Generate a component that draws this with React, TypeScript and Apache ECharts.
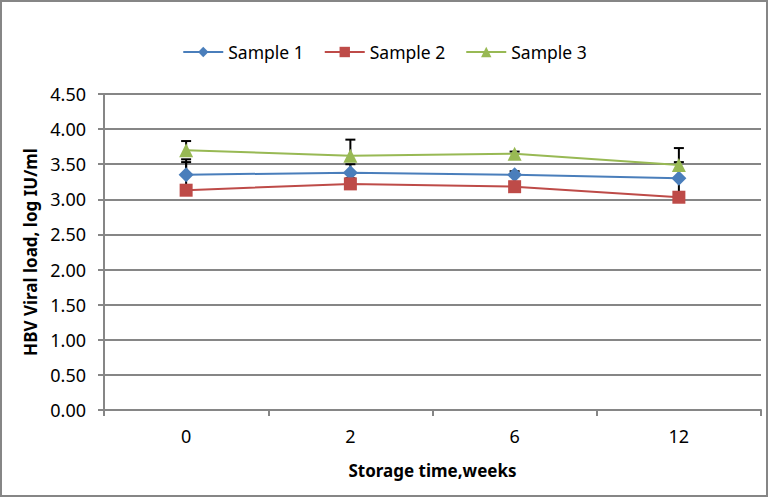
import React, { useEffect, useRef } from "react";
import * as echarts from "echarts";

const categories = ["0", "2", "6", "12"];
const sample1 = [3.35, 3.38, 3.35, 3.3];
const sample2 = [3.13, 3.22, 3.18, 3.03];
const sample3 = [3.7, 3.62, 3.65, 3.49];
const sample1Upper = [3.57, 3.5, 3.4, 3.53];
const sample2Upper = [3.53, 3.3, 3.22, 3.3];
const sample3Upper = [3.83, 3.85, 3.68, 3.73];
const yTicks = { min: 0, max: 4.5, interval: 0.5 };

const FONT = "'Noto Sans', sans-serif";
const GRAY = "#868686";

function errorSeries(name: string, values: number[], uppers: number[]) {
  return {
    type: "custom",
    name: name + " err",
    z: 1,
    silent: true,
    data: values.map((v, i) => [i, v, uppers[i]]),
    encode: { x: 0, y: [1, 2] },
    renderItem: (params: any, api: any) => {
      const i = api.value(0);
      const p0 = api.coord([i, api.value(1)]);
      const p1 = api.coord([i, api.value(2)]);
      const style = { stroke: "#000", lineWidth: 2 };
      return {
        type: "group",
        children: [
          { type: "line", shape: { x1: p0[0], y1: p0[1], x2: p1[0], y2: p1[1] }, style },
          { type: "line", shape: { x1: p1[0] - 5, y1: p1[1], x2: p1[0] + 5, y2: p1[1] }, style },
        ],
      };
    },
  };
}

export default function App() {
  const ref = useRef<HTMLDivElement>(null);
  useEffect(() => {
    document.body.style.margin = "0";
    const chart = echarts.init(ref.current!, null, { renderer: "svg" });
    const lineSeries = (name: string, data: number[], color: string, symbol: string, size: number) => ({
      type: "line",
      name,
      data,
      z: 3,
      symbol,
      symbolSize: size,
      lineStyle: { color, width: 2 },
      itemStyle: { color },
    });
    chart.setOption({
      animation: false,
      backgroundColor: "#fff",
      textStyle: { fontFamily: FONT },
      graphic: [
        {
          type: "rect",
          shape: { x: 1, y: 1, width: 766, height: 495 },
          style: { fill: "none", stroke: GRAY, lineWidth: 2 },
          z: -1,
        },
      ],
      legend: {
        top: 38,
        left: "center",
        itemGap: 20,
        itemWidth: 40,
        itemHeight: 13,
        textStyle: { fontFamily: FONT, fontSize: 17.5, color: "#000" },
        data: ["Sample 1", "Sample 2", "Sample 3"],
      },
      grid: { left: 104, right: 8, top: 94, bottom: 88 },
      xAxis: {
        type: "category",
        data: categories,
        boundaryGap: true,
        name: "Storage time,weeks",
        nameLocation: "middle",
        nameGap: 52,
        nameTextStyle: { fontFamily: FONT, fontSize: 17, fontWeight: "bold", color: "#000" },
        axisLine: { lineStyle: { color: GRAY, width: 2 } },
        axisTick: { show: true, length: 6, lineStyle: { color: GRAY, width: 2 } },
        axisLabel: { fontFamily: FONT, fontSize: 18, color: "#000", margin: 17 },
      },
      yAxis: {
        type: "value",
        min: yTicks.min,
        max: yTicks.max,
        interval: yTicks.interval,
        name: "HBV Viral load, log IU/ml",
        nameLocation: "middle",
        nameGap: 58,
        nameTextStyle: { fontFamily: FONT, fontSize: 17, fontWeight: "bold", color: "#000" },
        axisLine: { show: true, lineStyle: { color: GRAY, width: 2 } },
        axisTick: { show: true, length: 6, lineStyle: { color: GRAY, width: 2 } },
        axisLabel: {
          fontFamily: FONT,
          fontSize: 18,
          color: "#000",
          margin: 18,
          formatter: (v: number) => v.toFixed(2),
        },
        splitLine: { lineStyle: { color: GRAY, width: 2 } },
      },
      series: [
        errorSeries("Sample 1", sample1, sample1Upper),
        errorSeries("Sample 2", sample2, sample2Upper),
        errorSeries("Sample 3", sample3, sample3Upper),
        lineSeries("Sample 1", sample1, "#4A7EBB", "diamond", 15),
        lineSeries("Sample 2", sample2, "#BE4B48", "rect", 13),
        lineSeries("Sample 3", sample3, "#98B954", "triangle", 14),
      ],
    });
    return () => chart.dispose();
  }, []);
  return <div ref={ref} style={{ width: 769, height: 498 }} />;
}
